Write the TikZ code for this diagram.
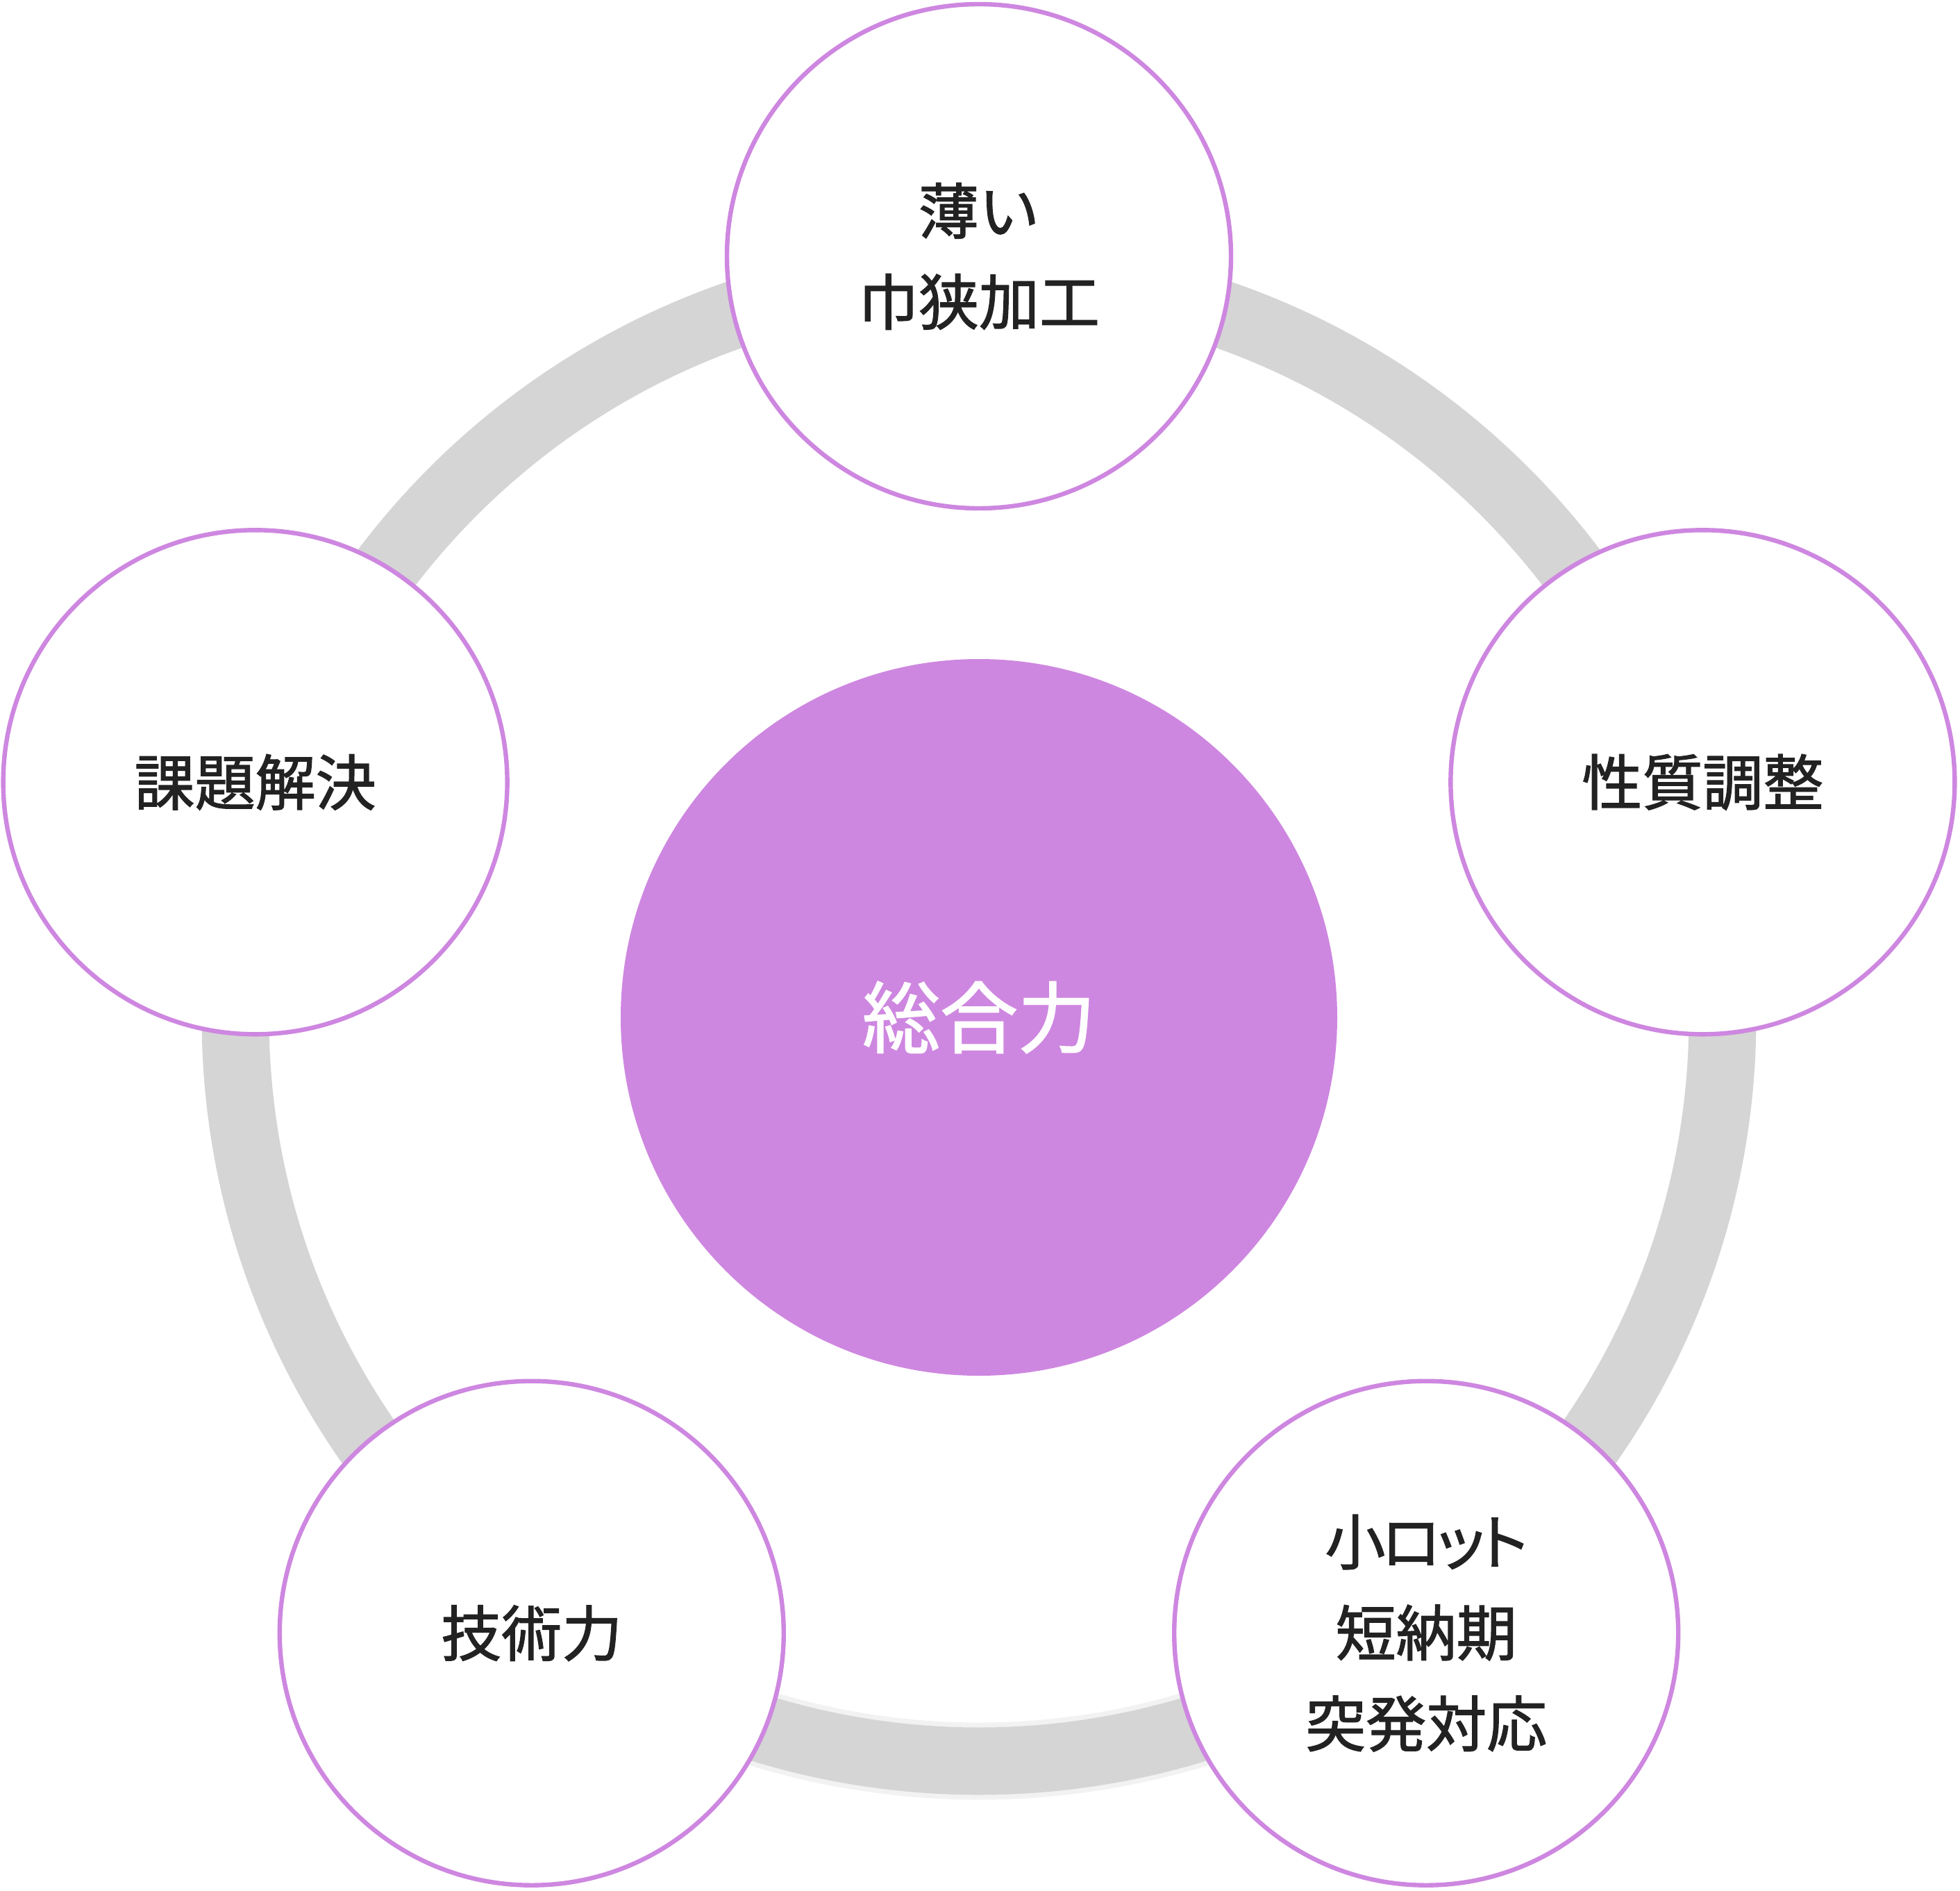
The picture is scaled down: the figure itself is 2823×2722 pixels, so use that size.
\documentclass[tikz,border=0pt]{standalone}
\usepackage{fontspec}
\setmainfont{Noto Sans CJK JP}[FakeBold=1.5]
\newfontfamily\paltfont{Noto Sans CJK JP}[FakeBold=1.5,RawFeature=+palt,LetterSpace=-6]
\definecolor{ringgray}{HTML}{D5D5D5}
\definecolor{ringlight}{HTML}{F2F2F2}
\definecolor{purp}{HTML}{CE87E0}
\definecolor{txt}{HTML}{222222}
\tikzset{
  item/.style={circle, draw=purp, line width=1.6pt, fill=white, minimum size=181.5pt, inner sep=0pt, text=txt, align=center, font=\fontsize{21.75pt}{32.75pt}\selectfont},
  core/.style={circle, fill=purp, minimum size=258pt, inner sep=0pt, text=white, font=\fontsize{28pt}{34pt}\selectfont},
  ring/.style={draw=ringgray, line width=24.25pt},
  ringedge/.style={draw=ringlight, line width=27.75pt}
}
\begin{document}
\begin{tikzpicture}[x=0.25pt, y=0.25pt]
\useasboundingbox (-1410,-1257) rectangle (1413,1465);
\coordinate (C) at (0,0);
\draw[ring] (C) circle [radius=267.75pt];
\draw[ringedge] ([shift={(-126:267.75pt)}]C) arc[start angle=-126, end angle=-54, radius=267.75pt];
\draw[ring] ([shift={(-126:267.75pt)}]C) arc[start angle=-126, end angle=-54, radius=267.75pt];
\node[core] (core) at (C) {総合力};
\node[item] (n1) at (90:1096) {薄い\\巾狭加工};
\node[item] (n2) at (18:1096) {性質調整};
\node[item] (n3) at (-54:1096) {{\paltfont 小ロット}\\短納期\\突発対応};
\node[item] (n4) at (-126:1096) {技術力};
\node[item] (n5) at (162:1096) {課題解決};
\end{tikzpicture}
\end{document}
